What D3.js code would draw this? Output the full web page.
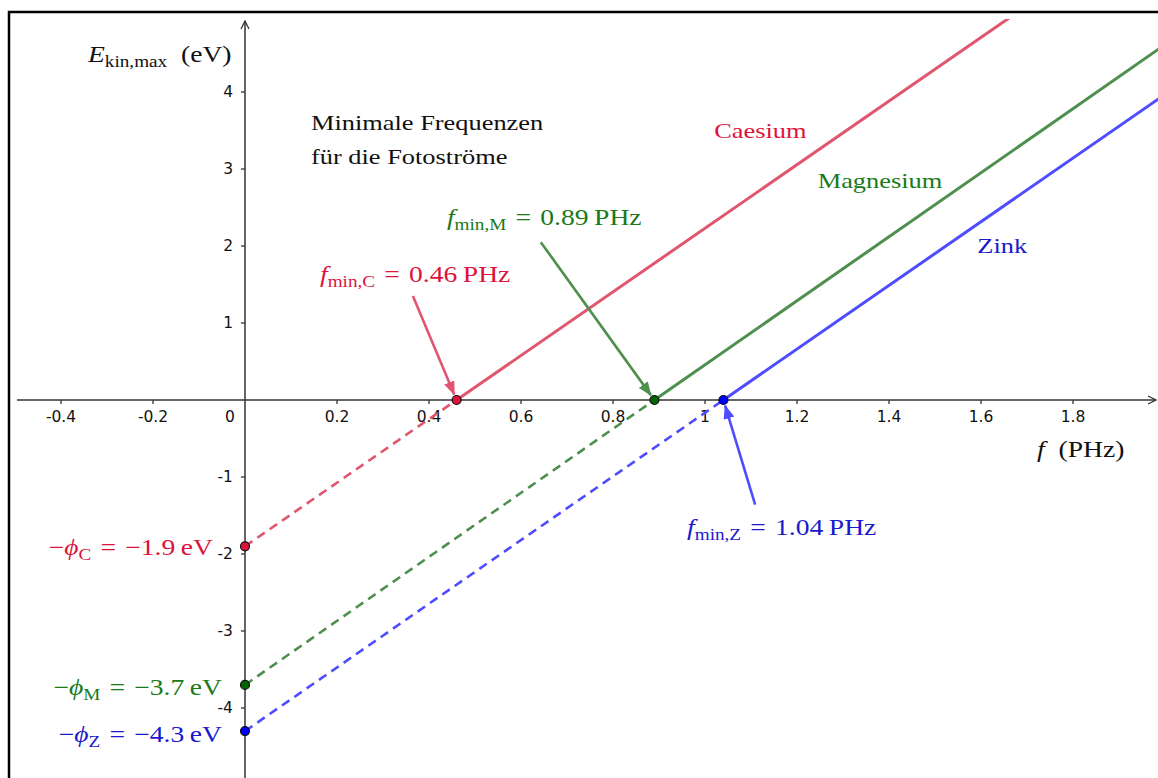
<!DOCTYPE html>
<html>
<head>
    <meta charset="utf-8" />
    <title>Minimale Frequenzen für die Fotoströme</title>
    <script src="https://d3js.org/d3.v7.min.js" charset="utf-8"></script>
    <style>
        body { margin: 0; background: #fff; }
        .serif { font-family: "Liberation Serif", "DejaVu Serif", serif; }
        .tick-label { font-family: "DejaVu Sans", sans-serif; font-size: 15.5px; fill: #111; }
    </style>
</head>
<body>
    <script>
        // Data: metals, threshold frequency (PHz) and work function (eV)
        const metals = ["Caesium", "Magnesium", "Zink"];
        const symbols = ["C", "M", "Z"];
        const fMin = [0.46, 0.89, 1.04];
        const workFunction = [1.9, 3.7, 4.3];
        const fMinLabels = ["0.46", "0.89", "1.04"];
        const phiLabels = ["1.9", "3.7", "4.3"];

        // Axis ticks
        const xTicks = [-0.4, -0.2, 0.2, 0.4, 0.6, 0.8, 1, 1.2, 1.4, 1.6, 1.8];
        const yTicks = [-4, -3, -2, -1, 1, 2, 3, 4];

        // Colours
        const lineColors = ["#e0566f", "#4e8f4e", "#4d4dff"];
        const textColors = ["#dc143c", "#1a7a1a", "#1a1acc"];
        const pointColors = ["#dc143c", "#006400", "#0000ff"];

        const width = 1158, height = 778;
        const stretch = 1.2; // serif text is drawn a bit wider, like the TeX font

        // Scales: 1 PHz = 460 px, 1 eV = 77 px
        const x = d3.scaleLinear().domain([-0.5, 2.0]).range([15, 1165]);
        const y = d3.scaleLinear().domain([-5, 5]).range([785, 15]);

        const svg = d3.select("body")
            .append("svg")
            .attr("width", width)
            .attr("height", height)
            .attr("viewBox", [0, 0, width, height]);

        // text helper: serif text with its origin at (px, py)
        function serifText(px, py, size, color, anchor) {
            return svg.append("g")
                .attr("transform", `translate(${px},${py}) scale(${stretch},1)`)
                .append("text")
                .attr("class", "serif")
                .attr("font-size", size)
                .attr("fill", color)
                .attr("text-anchor", anchor || "start");
        }

        const defs = svg.append("defs");
        defs.append("clipPath").attr("id", "plot-clip")
            .append("rect")
            .attr("x", 10).attr("y", 19)
            .attr("width", width - 10).attr("height", height - 19);

        // arrow heads for the annotation arrows
        lineColors.forEach((c, i) => {
            defs.append("marker")
                .attr("id", "head" + i)
                .attr("viewBox", "0 0 14 11")
                .attr("refX", 13).attr("refY", 5.5)
                .attr("markerWidth", 14).attr("markerHeight", 11)
                .attr("markerUnits", "userSpaceOnUse")
                .attr("orient", "auto")
                .append("path")
                .attr("d", "M0,0 L14,5.5 L0,11 Z")
                .attr("fill", c);
        });
        defs.append("marker")
            .attr("id", "axis-arrow")
            .attr("viewBox", "0 0 10 10")
            .attr("refX", 9).attr("refY", 5)
            .attr("markerWidth", 10).attr("markerHeight", 10)
            .attr("markerUnits", "userSpaceOnUse")
            .attr("orient", "auto")
            .append("path")
            .attr("d", "M1,1 L9,5 L1,9")
            .attr("fill", "none")
            .attr("stroke", "#333")
            .attr("stroke-width", 1.3);

        // frame (top and left edges visible)
        svg.append("path")
            .attr("d", `M9,${height} L9,12 L${width},12`)
            .attr("fill", "none")
            .attr("stroke", "#000")
            .attr("stroke-width", 2.5);

        // axes
        const axes = svg.append("g");
        axes.append("line")
            .attr("x1", 17).attr("x2", width - 2)
            .attr("y1", y(0)).attr("y2", y(0))
            .attr("stroke", "#333").attr("stroke-width", 1.5)
            .attr("marker-end", "url(#axis-arrow)");
        axes.append("line")
            .attr("x1", x(0)).attr("x2", x(0))
            .attr("y1", height).attr("y2", 21)
            .attr("stroke", "#333").attr("stroke-width", 1.5)
            .attr("marker-end", "url(#axis-arrow)");

        axes.selectAll(".xtick")
            .data(xTicks)
            .enter().append("line")
            .attr("x1", d => x(d)).attr("x2", d => x(d))
            .attr("y1", y(0)).attr("y2", y(0) + 4)
            .attr("stroke", "#333").attr("stroke-width", 1.3);
        axes.selectAll(".xlab")
            .data(xTicks)
            .enter().append("text")
            .attr("class", "tick-label")
            .attr("x", d => x(d))
            .attr("y", y(0) + 22)
            .attr("text-anchor", "middle")
            .text(d => d3.format("~g")(d).replace("−", "-"));
        axes.append("text")
            .attr("class", "tick-label")
            .attr("x", x(0) - 15)
            .attr("y", y(0) + 22)
            .attr("text-anchor", "middle")
            .text("0");

        axes.selectAll(".ytick")
            .data(yTicks)
            .enter().append("line")
            .attr("x1", x(0) - 4).attr("x2", x(0))
            .attr("y1", d => y(d)).attr("y2", d => y(d))
            .attr("stroke", "#333").attr("stroke-width", 1.3);
        axes.selectAll(".ylab")
            .data(yTicks)
            .enter().append("text")
            .attr("class", "tick-label")
            .attr("x", x(0) - 12)
            .attr("y", d => y(d))
            .attr("dy", "0.35em")
            .attr("text-anchor", "end")
            .text(d => String(d).replace("−", "-"));

        // axis titles
        const yTitle = serifText(88, 62, 23, "#111");
        yTitle.append("tspan").attr("font-style", "italic").text("E");
        yTitle.append("tspan").attr("font-size", 16).attr("dy", 5).text("kin,max");
        yTitle.append("tspan").attr("dy", -5).text("\u2002(eV)");

        const xTitle = serifText(1037, 457, 23, "#111");
        xTitle.append("tspan").attr("font-style", "italic").text("f");
        xTitle.append("tspan").text("\u2002(PHz)");

        // note
        const note = serifText(311, 130, 22, "#111");
        note.append("tspan").attr("x", 0).attr("y", 0).text("Minimale Frequenzen");
        note.append("tspan").attr("x", 0).attr("y", 34).text("für die Fotoströme");

        // lines: dashed below the axis, solid above
        const lines = svg.append("g").attr("clip-path", "url(#plot-clip)");
        const fMax = x.domain()[1];
        metals.forEach((m, i) => {
            const slope = workFunction[i] / fMin[i];
            lines.append("line")
                .attr("x1", x(0)).attr("y1", y(-workFunction[i]))
                .attr("x2", x(fMin[i])).attr("y2", y(0))
                .attr("stroke", lineColors[i])
                .attr("stroke-width", 2.6)
                .attr("stroke-dasharray", "9,6");
            lines.append("line")
                .attr("x1", x(fMin[i])).attr("y1", y(0))
                .attr("x2", x(fMax)).attr("y2", y(slope * fMax - workFunction[i]))
                .attr("stroke", lineColors[i])
                .attr("stroke-width", 3);
        });

        // series names
        const namePos = [[1.02, 3.4], [1.245, 2.75], [1.592, 1.91]];
        metals.forEach((m, i) => {
            serifText(x(namePos[i][0]), y(namePos[i][1]), 22, textColors[i]).text(m);
        });

        // annotation arrows to the threshold frequencies
        const arrowStart = [[0.365, 1.35], [0.643, 2.05], [1.109, -1.36]];
        metals.forEach((m, i) => {
            const x0 = x(arrowStart[i][0]), y0 = y(arrowStart[i][1]);
            const x1 = x(fMin[i]), y1 = y(0);
            const len = Math.hypot(x1 - x0, y1 - y0);
            const k = (len - 6) / len;
            svg.append("line")
                .attr("x1", x0).attr("y1", y0)
                .attr("x2", x0 + (x1 - x0) * k).attr("y2", y0 + (y1 - y0) * k)
                .attr("stroke", lineColors[i])
                .attr("stroke-width", 2.6)
                .attr("marker-end", `url(#head${i})`);
        });

        // f_min labels
        const fLabelPos = [[0.163, 1.53], [0.439, 2.27], [0.961, -1.75]];
        metals.forEach((m, i) => {
            const t = serifText(x(fLabelPos[i][0]), y(fLabelPos[i][1]), 23, textColors[i]);
            t.append("tspan").attr("font-style", "italic").text("f");
            t.append("tspan").attr("font-size", 16).attr("dy", 5).text("min," + symbols[i]);
            t.append("tspan").attr("dy", -5).text("\u2004=\u2004" + fMinLabels[i] + "\u2009PHz");
        });

        // work function labels
        const phiEnd = [213, 222, 222];
        const phiDy = [9, 10, 11];
        metals.forEach((m, i) => {
            const t = serifText(phiEnd[i], y(-workFunction[i]) + phiDy[i], 23, textColors[i], "end");
            t.append("tspan").text("\u2212");
            t.append("tspan").attr("font-style", "italic").text("\u03d5");
            t.append("tspan").attr("font-size", 16).attr("dy", 5).text(symbols[i]);
            t.append("tspan").attr("dy", -5).text("\u2004=\u2004\u2212" + phiLabels[i] + "\u2009eV");
        });

        // points
        const pts = [];
        metals.forEach((m, i) => {
            pts.push({ f: 0, e: -workFunction[i], i });
            pts.push({ f: fMin[i], e: 0, i });
        });
        svg.selectAll(".pt")
            .data(pts)
            .enter().append("circle")
            .attr("cx", d => x(d.f))
            .attr("cy", d => y(d.e))
            .attr("r", 4.5)
            .attr("fill", d => pointColors[d.i])
            .attr("stroke", "#111")
            .attr("stroke-width", 1.2);
    </script>
</body>
</html>
